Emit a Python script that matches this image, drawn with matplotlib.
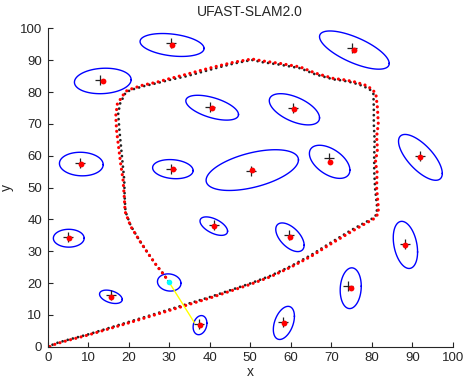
import numpy as np
import matplotlib.pyplot as plt

plt.rcParams['font.family'] = ['Liberation Sans', 'DejaVu Sans']

# true landmark positions (black +)
lm_true_x = [30.4, 75.1, 12.9, 40.1, 60.5, 8.0, 30.4, 50.1, 69.5, 91.9, 5.1, 41.1, 59.6, 88.2, 15.6, 74.2, 37.4, 58.2]
lm_true_y = [95.3, 93.7, 83.8, 75.2, 74.9, 57.6, 56.0, 55.3, 59.2, 59.9, 34.6, 38.4, 35.1, 32.3, 16.2, 19.1, 7.1, 7.9]
# estimated landmark positions (red dots)
lm_est_x = [30.7, 75.7, 13.6, 40.6, 60.9, 8.3, 30.9, 50.5, 69.6, 92.0, 5.2, 41.0, 59.8, 88.3, 15.6, 74.8, 37.6, 58.3]
lm_est_y = [94.8, 93.2, 83.5, 75.1, 74.6, 57.4, 55.8, 55.5, 58.1, 59.5, 34.1, 37.9, 34.4, 32.0, 15.7, 18.4, 6.8, 7.5]
# covariance ellipses: half width (x), half height (y), correlation
ell_sx = [7.9, 8.6, 7.0, 6.5, 6.2, 5.4, 5.0, 11.4, 5.0, 5.4, 3.8, 3.4, 3.5, 3.0, 2.8, 2.6, 1.7, 2.6]
ell_sy = [3.6, 6.0, 4.0, 3.9, 4.9, 3.7, 3.0, 6.4, 5.2, 7.2, 2.8, 2.9, 4.5, 7.4, 2.1, 6.4, 3.0, 5.2]
ell_rho = [-0.3, -0.7, 0.1, -0.55, -0.55, -0.05, -0.15, 0.5, -0.5, -0.7, 0.0, -0.55, -0.55, -0.3, -0.4, 0.1, 0.2, 0.4]

# true vehicle path (black)
path_true_x = [0, 2, 5, 10, 20, 30, 40, 50, 55, 60, 65, 70, 75, 78, 80.3, 81.2, 81.3, 80.8, 80.6, 80.6,
               80.7, 80.5, 80.5, 80.4, 79.6, 77.9, 75.5, 73.0, 70.5, 66.0, 62.3, 57.4, 53.0, 50.4, 46.0,
               41.7, 38.0, 34.3, 30.0, 26.9, 23.5, 21.1, 19.5, 19.1, 17.9, 17.4, 17.7, 18.1, 18.5, 18.9,
               19.0, 19.2, 20.5, 22.6, 24.8, 26.9, 28.6, 30.0]
path_true_y = [0, 1.1, 2.2, 3.9, 7.8, 11.7, 15.6, 19.9, 22.3, 25.3, 28.8, 32.8, 36.7, 38.8, 40.4, 41.6, 44, 50,
               55, 60, 65, 70, 75, 79.4, 80.7, 81.9, 82.9, 83.6, 84.0, 85.6, 87.5, 88.6, 89.4, 90.1, 89.0,
               87.6, 86.3, 85.0, 83.8, 82.8, 81.8, 80.9, 80.1, 79.5, 76.5, 73.3, 68.1, 62.8, 57.6, 52.4,
               47.1, 42.5, 38.0, 33.5, 29.3, 25.5, 22.8, 20.2]
# estimated vehicle path (red)
path_est_x = [0, 2, 5, 10, 20, 30, 40, 50, 55, 60, 65, 70, 75, 78, 80.5, 81.6, 81.6, 81.2, 81.3, 80.9,
              81.4, 81.2, 81.6, 81.4, 81.0, 80.0, 78.2, 75.5, 73.0, 70.5, 66.0, 62.3, 57.4, 53.0, 50.4,
              46.0, 41.7, 38.0, 34.3, 30.0, 26.9, 23.5, 21.1, 19.6, 18.9, 17.2, 16.8, 17.0, 17.5, 18.0,
              18.6, 18.9, 19.1, 20.5, 22.7, 24.9, 27.0, 28.7, 29.9]
path_est_y = [-0.2, 0.9, 2.0, 3.7, 7.5, 11.4, 15.3, 19.6, 22.0, 25.0, 28.4, 32.4, 36.2, 38.4, 40.2, 41.8, 44,
              50, 55, 58, 62, 66, 70, 75, 79.5, 81.0, 82.3, 83.3, 83.9, 84.3, 86.0, 87.9, 89.0, 89.8,
              90.4, 89.4, 88.1, 86.9, 85.6, 84.2, 83.1, 82.2, 81.2, 80.5, 79.6, 76.3, 72.5, 68.0, 62.8,
              57.6, 52.4, 47.1, 42.5, 37.8, 33.3, 29.1, 25.3, 22.6, 20.4]

robot_x, robot_y = 30.0, 20.2
robot_sx, robot_sy, robot_rho = 2.9, 2.7, -0.1
obs_x = [30.0, 36.2]
obs_y = [20.2, 7.6]


def ellipse(cx, cy, sx, sy, rho, n=100):
    t = np.linspace(0, 2 * np.pi, n)
    ex = cx + sx * np.cos(t)
    ey = cy + sy * (rho * np.cos(t) + np.sqrt(1 - rho ** 2) * np.sin(t))
    return ex, ey


fig = plt.figure(figsize=(4.63, 3.79), dpi=100)
ax = fig.add_axes([0.103, 0.085, 0.875, 0.840])

for i in range(len(lm_est_x)):
    ex, ey = ellipse(lm_est_x[i], lm_est_y[i], ell_sx[i], ell_sy[i], ell_rho[i])
    ax.plot(ex, ey, color='#0000ff', lw=1.0)

ex, ey = ellipse(robot_x, robot_y, robot_sx, robot_sy, robot_rho)
ax.plot(ex, ey, color='#0000ff', lw=1.0)

ax.plot(path_true_x, path_true_y, color='#222222', lw=2.0,
        linestyle=(0, (0.01, 1.9)), dash_capstyle='round')
ax.plot(path_est_x, path_est_y, color='#ff0000', lw=2.3,
        linestyle=(1.0, (0.01, 1.7)), dash_capstyle='round')

ax.plot(obs_x, obs_y, color='#ffff00', lw=1.0)

ax.plot(lm_true_x, lm_true_y, '+', color='#222222', ms=6.5, mew=0.9)
ax.plot(lm_est_x, lm_est_y, 'o', color='#ff0000', ms=4.2, mec='none')
ax.plot([robot_x], [robot_y], 'o', color='#00ffff', ms=4, mec='none')

ax.set_xlim(0, 100)
ax.set_ylim(0, 100)
ax.set_xticks(np.arange(0, 101, 10))
ax.set_yticks(np.arange(0, 101, 10))
ax.tick_params(direction='in', length=3.5, width=0.8, labelsize=9.5,
               colors='#262626', pad=4)
for s in ['top', 'right']:
    ax.spines[s].set_visible(False)
for s in ['left', 'bottom']:
    ax.spines[s].set_color('#262626')
    ax.spines[s].set_linewidth(0.8)

ax.set_title('UFAST-SLAM2.0', fontsize=10, color='#262626', pad=9)
ax.set_xlabel('x', fontsize=10, color='#262626')
ax.set_ylabel('y', fontsize=10, color='#262626')
ax.xaxis.set_label_coords(0.5, -0.056)
ax.yaxis.set_label_coords(-0.083, 0.5)

fig.savefig('out.png', dpi=100)
